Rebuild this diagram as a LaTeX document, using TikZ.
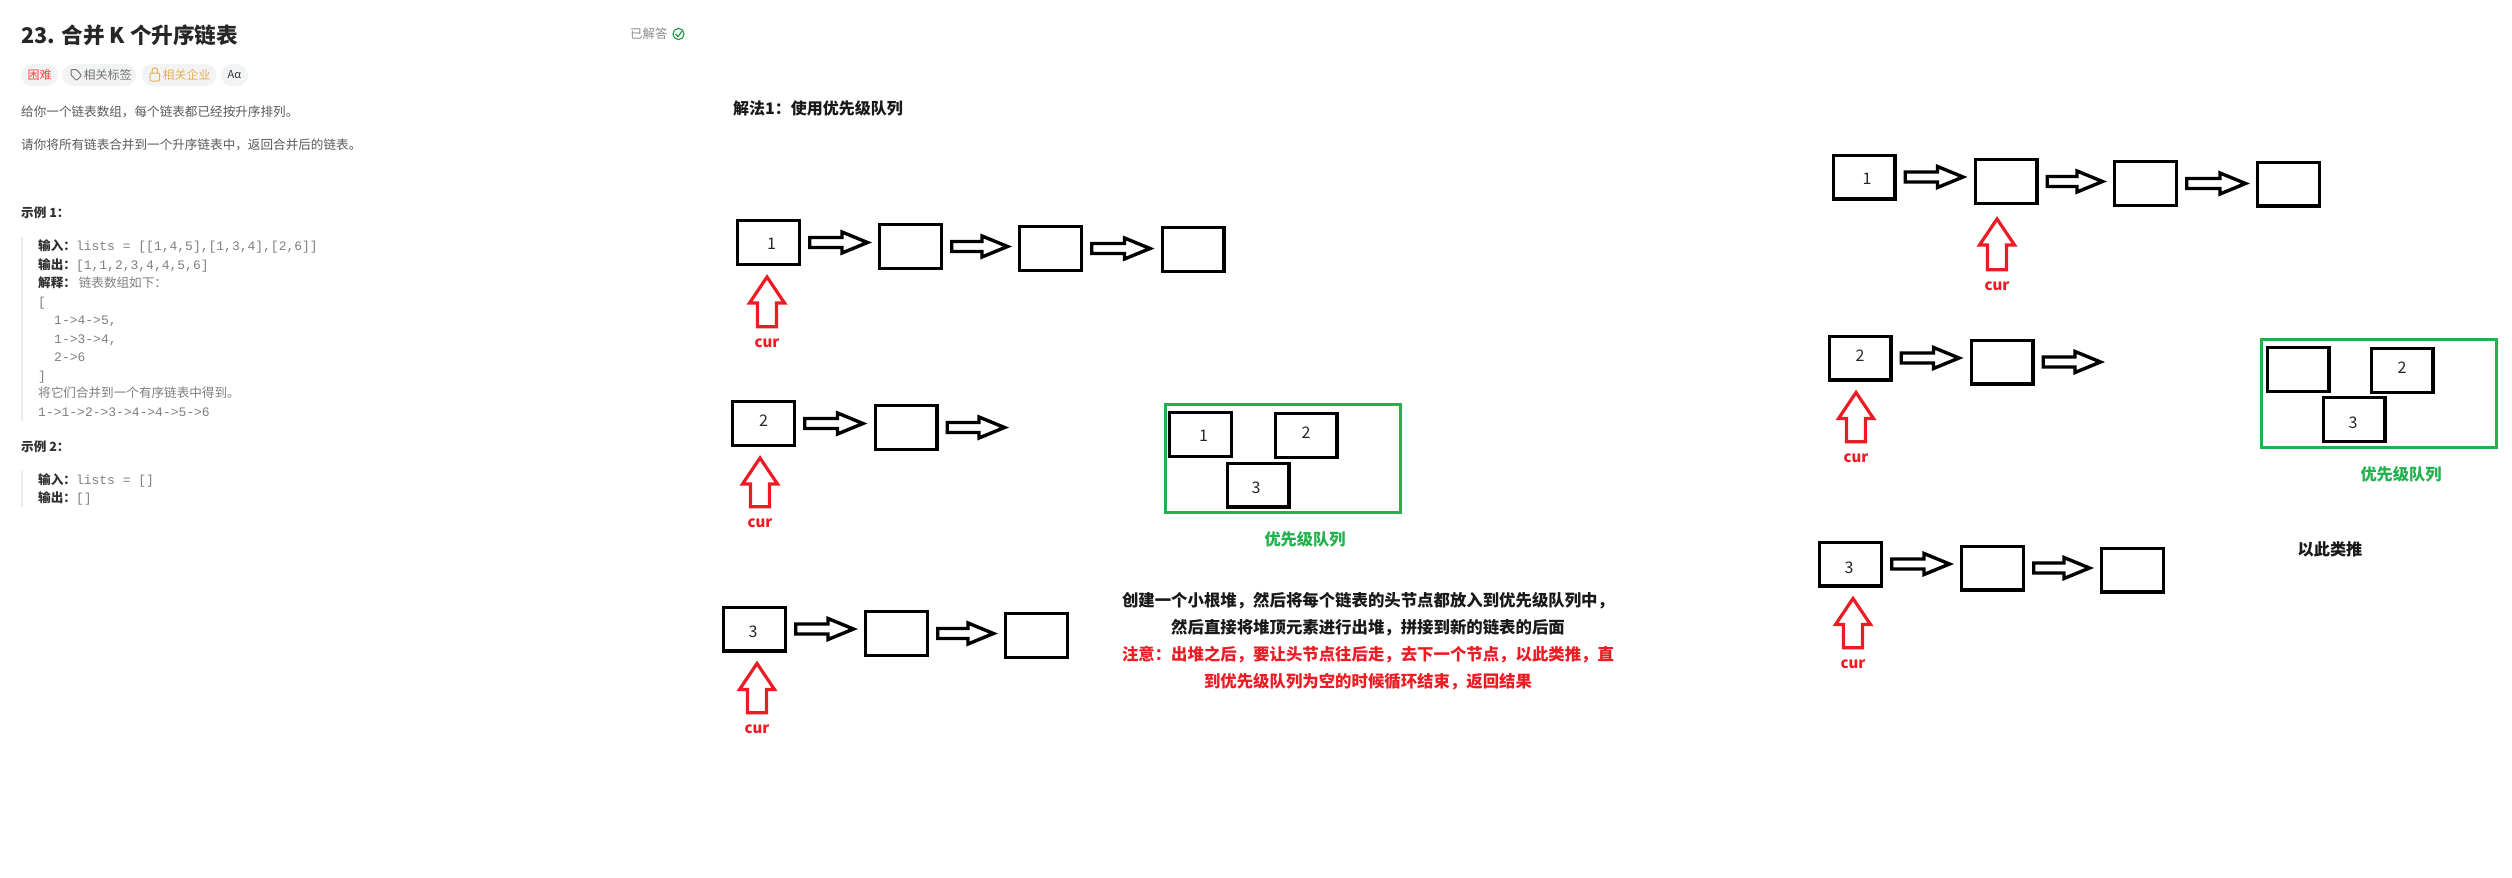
\documentclass[tikz,border=0pt]{standalone}
\usepackage{fontspec}
\setmainfont{Noto Sans CJK SC}
\setmonofont{Liberation Mono}
\usetikzlibrary{calc}
\newcommand{\fs}[1]{\fontsize{#1}{#1}\selectfont}
\definecolor{qgreen}{HTML}{22B14C}
\definecolor{qred}{HTML}{ED1C24}
\definecolor{bodygrey}{HTML}{5A5A5A}
\definecolor{codegrey}{HTML}{808080}
\definecolor{labelgrey}{HTML}{303030}
\definecolor{pillgrey}{HTML}{F2F3F4}
\definecolor{barlight}{HTML}{EBEBEB}
\definecolor{orangetxt}{HTML}{E9AE55}
\tikzset{
  listbox/.style={draw=black,line width=3.4pt,minimum width=61.6pt,minimum height=43.6pt,inner sep=0pt},
  numlab/.style={font=\fs{16},text=black!85,inner sep=0pt},
  nm/.style n args={3}{label={[numlab,xshift=#2pt,yshift=#3pt]center:#1}},
  queuebox/.style={draw=qgreen,line width=3pt,minimum width=235pt,minimum height=108pt,inner sep=0pt},
  queuelab/.style={font=\fs{16.2}\bfseries,text=qgreen,inner sep=0pt},
  curlab/.style={font=\fs{15}\bfseries,text=qred,inner sep=0pt},
  blockarr/.style={draw=black,line width=3.4pt,line join=miter,
    to path={let \p1=(\tikztostart),\p2=(\tikztotarget) in
      (\x1+8.7pt,\y1+5pt) -- (\x2-36pt,\y1+5pt) -- (\x2-36pt,\y1+10.5pt) -- (\x2-10.5pt,\y1)
      -- (\x2-36pt,\y1-10.5pt) -- (\x2-36pt,\y1-5pt) -- (\x1+8.7pt,\y1-5pt) -- cycle}},
  redarr/.style={draw=qred,line width=3.2pt,line join=miter,
    to path={let \p1=(\tikztostart),\p2=(\tikztotarget) in
      (\x1-9.5pt,\y1+11.5pt) -- (\x1-9.5pt,\y2-37pt) -- (\x1-17.5pt,\y2-37pt) -- (\x1,\y2-11pt)
      -- (\x1+17.5pt,\y2-37pt) -- (\x1+9.5pt,\y2-37pt) -- (\x1+9.5pt,\y1+11.5pt) -- cycle}},
  note/.style={font=\fs{16.4}\bfseries,inner sep=0pt},
  bodyline/.style={anchor=west,inner sep=0pt,font=\fs{12.6},text=bodygrey,text height=10.5pt,text depth=1.5pt},
  codeline/.style={anchor=west,inner sep=0pt,font=\fs{13}\ttfamily,text=codegrey,text height=10.5pt,text depth=1.5pt},
  headline/.style={anchor=west,inner sep=0pt,font=\fs{12.6}\bfseries,text=labelgrey,text height=10.5pt,text depth=1.5pt},
  pill/.style={fill=pillgrey,rounded corners=11pt,minimum height=22pt,inner sep=0pt},
  pilltxt/.style={inner sep=0pt,font=\fs{12}},
  sidebar/.style={draw=barlight,line width=2pt},
}
\newcommand{\lab}[1]{{\rmfamily\fs{12.6}\bfseries\color{labelgrey}#1}}
\begin{document}
\begin{tikzpicture}[x=1pt,y=-1pt]
\useasboundingbox (0,0) rectangle (2512,878);
\fill[white] (0,0) rectangle (2512,878);

% ---- problem statement panel
\node[anchor=west,inner sep=0pt,font=\fs{21.6}\bfseries,text=black!85] (title) at (21,35) {23. 合并 K 个升序链表};
\node[anchor=west,inner sep=0pt,font=\fs{12.5},text=black!45] (solved) at (630,34) {已解答};
\draw[qgreen!85!black,line width=1.1pt] (678.5,34) circle[radius=5.6pt];
\draw[qgreen!85!black,line width=1.1pt] (675.5,34) -- (678,36.8) -- (682,31);

\node[pill,minimum width=37pt] (p1) at (39.5,75) {};
\node[pilltxt,text=red!75] (p1t) at (39.5,75) {困难};
\node[pill,minimum width=74pt] (p2) at (99,75) {};
\node[pilltxt,text=black!55] (p2t) at (107.5,75) {相关标签};
\draw[black!55,line width=1pt,rounded corners=1pt] (71,69.5) -- (76.5,69.5) -- (81.5,75.5) -- (76.5,80.5) -- (71,75) -- cycle;
\node[pill,minimum width=75pt] (p3) at (179,75) {};
\node[pilltxt,text=orangetxt] (p3t) at (186.5,75) {相关企业};
\draw[orangetxt,line width=1pt,rounded corners=1pt] (150,73) rectangle (159.5,81);
\draw[orangetxt,line width=1pt] (152,73) -- (152,70.5) .. controls (152,67) and (157.5,67) .. (157.5,70.5) -- (157.5,73);
\node[pill,minimum width=27pt] (p4) at (234.5,75) {};
\node[pilltxt,font=\fs{11},text=black!80] (p4t) at (234.5,75) {Aα};

\node[bodyline] (b1) at (21,112) {给你一个链表数组，每个链表都已经按升序排列。};
\node[bodyline] (b2) at (21,145) {请你将所有链表合并到一个升序链表中，返回合并后的链表。};
\node[headline] (ex1) at (21,213) {示例 1：};
\draw[sidebar] (22,237) -- (22,421);
\node[codeline] (c1) at (38,246) {\lab{输入：}lists = [[1,4,5],[1,3,4],[2,6]]};
\node[codeline] (c2) at (38,265) {\lab{输出：}[1,1,2,3,4,4,5,6]};
\node[codeline] (c3) at (38,283) {\lab{解释：}{\rmfamily\fs{12.6} 链表数组如下：}};
\node[codeline] (c4) at (38,302) {[};
\node[codeline] (c5) at (54,320) {1->4->5,};
\node[codeline] (c6) at (54,339) {1->3->4,};
\node[codeline] (c7) at (54,357) {2->6};
\node[codeline] (c8) at (38,376) {]};
\node[codeline,font=\fs{12.6}] (c9) at (38,393) {将它们合并到一个有序链表中得到。};
\node[codeline] (c10) at (38,412) {1->1->2->3->4->4->5->6};
\node[headline] (ex2) at (21,447) {示例 2：};
\draw[sidebar] (22,471) -- (22,507);
\node[codeline] (c11) at (38,480) {\lab{输入：}lists = []};
\node[codeline] (c12) at (38,498) {\lab{输出：}[]};

% ---- heading
\node[anchor=west,inner sep=0pt,font=\fs{16}\bfseries,text=black!90] (sol) at (733,108) {解法1：使用优先级队列};

% ---- left lists
\node[listbox,nm={1}{3}{-1.5}] (r1a) at (768.5,242.5) {};
\node[listbox] (r1b) at (910.5,246.5) {};
\node[listbox] (r1c) at (1050.5,248.5) {};
\node[listbox] (r1d) at (1193,249.5) {};
\draw[blockarr] (r1a.east) to (r1b.west);
\draw[blockarr] (r1b.east) to (r1c.west);
\draw[blockarr] (r1c.east) to (r1d.west);
\node[curlab] (cur1) at (767,343) {cur};
\draw[redarr] (cur1.north) to (r1a.south);

\node[listbox,nm={2}{0}{2.5}] (r2a) at (763.5,423.5) {};
\node[listbox] (r2b) at (906,427.5) {};
\coordinate (r2end) at (1015,428);
\draw[blockarr] (r2a.east) to (r2b.west);
\draw[blockarr] (r2b.east) to (r2end);
\node[curlab] (cur2) at (760,523) {cur};
\draw[redarr] (cur2.north) to (r2a.south);

\node[listbox,nm={3}{-1.5}{-3}] (r3a) at (754.5,629) {};
\node[listbox] (r3b) at (896.5,633.5) {};
\node[listbox] (r3c) at (1036.5,635.5) {};
\draw[blockarr] (r3a.east) to (r3b.west);
\draw[blockarr] (r3b.east) to (r3c.west);
\node[curlab] (cur3) at (757,729) {cur};
\draw[redarr] (cur3.north) to (r3a.south);

% ---- left queue
\node[queuebox] (q) at (1283,458.5) {};
\node[listbox,nm={1}{3}{-1.5}] (q1) at (1200.5,434.5) {};
\node[listbox,nm={2}{0}{2.5}] (q2) at (1306,435.5) {};
\node[listbox,nm={3}{-2}{-3}] (q3) at (1258,485) {};
\node[queuelab] (ql) at (1305,539) {优先级队列};

% ---- explanation
\node[note,text=black!90] (n1) at (1368,601) {创建一个小根堆，然后将每个链表的头节点都放入到优先级队列中，};
\node[note,text=black!90] (n2) at (1368,628) {然后直接将堆顶元素进行出堆，拼接到新的链表的后面};
\node[note,text=qred] (n3) at (1368,655) {注意：出堆之后，要让头节点往后走，去下一个节点，以此类推，直};
\node[note,text=qred] (n4) at (1368,682) {到优先级队列为空的时候循环结束，返回结果};

% ---- right lists
\node[listbox,nm={1}{3}{-2}] (s1a) at (1864,177) {};
\node[listbox] (s1b) at (2006,181.5) {};
\node[listbox] (s1c) at (2145.5,183.5) {};
\node[listbox] (s1d) at (2288.5,184) {};
\draw[blockarr] (s1a.east) to (s1b.west);
\draw[blockarr] (s1b.east) to (s1c.west);
\draw[blockarr] (s1c.east) to (s1d.west);
\node[curlab] (cur4) at (1997,286) {cur};
\draw[redarr] (cur4.north) to ([yshift=-3pt]s1b.south);

\node[listbox,nm={2}{0}{2}] (s2a) at (1860,358) {};
\node[listbox] (s2b) at (2002,362) {};
\coordinate (s2end) at (2111,362);
\draw[blockarr] (s2a.east) to (s2b.west);
\draw[blockarr] (s2b.east) to (s2end);
\node[curlab] (cur5) at (1856,458) {cur};
\draw[redarr] (cur5.north) to (s2a.south);

\node[listbox,nm={3}{-1.5}{-4}] (s3a) at (1850.5,564) {};
\node[listbox] (s3b) at (1992.5,568) {};
\node[listbox] (s3c) at (2132.5,570) {};
\draw[blockarr] (s3a.east) to (s3b.west);
\draw[blockarr] (s3b.east) to (s3c.west);
\node[curlab] (cur6) at (1853,664) {cur};
\draw[redarr] (cur6.north) to (s3a.south);

% ---- right queue
\node[queuebox] (t) at (2378.5,393.5) {};
\node[listbox] (t1) at (2298,369.5) {};
\node[listbox,nm={2}{0}{2.5}] (t2) at (2402,370.5) {};
\node[listbox,nm={3}{-1}{-3.5}] (t3) at (2354,419.5) {};
\node[queuelab] (tl) at (2401,474) {优先级队列};
\node[note,font=\fs{16.2}\bfseries,text=black!90] (etc) at (2330,549) {以此类推};
\end{tikzpicture}
\end{document}
